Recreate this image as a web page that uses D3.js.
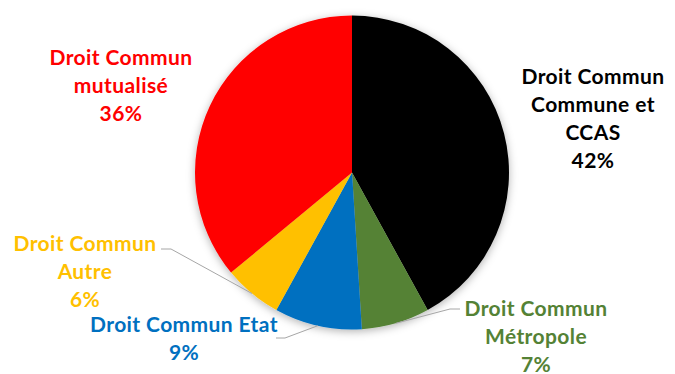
<!DOCTYPE html>
<html>
<head>
<meta charset="utf-8">
<script src="https://cdn.jsdelivr.net/npm/d3@7"></script>
<style>
  html, body { margin: 0; padding: 0; background: #fff; }
  svg { display: block; }
  text { font-family: Lato, "Open Sans", sans-serif; font-weight: 700; }
</style>
</head>
<body>
<svg id="chart" width="675" height="374"></svg>
<script>
// ---- data ----
const categories = ["Droit Commun Commune et CCAS", "Droit Commun Métropole", "Droit Commun Etat", "Droit Commun Autre", "Droit Commun mutualisé"];
const values = [42, 7, 9, 6, 36];
const colors = ["#000000", "#548235", "#0070C0", "#FFC000", "#FF0000"];
const labelLines = [
  ["Droit Commun", "Commune et", "CCAS"],
  ["Droit Commun", "Métropole"],
  ["Droit Commun Etat"],
  ["Droit Commun", "Autre"],
  ["Droit Commun", "mutualisé"]
];

// ---- layout (not data) ----
const cx = 352, cy = 172.5, R = 157;
const fontSize = 21, lineH = 28;
// label anchor: center x and first baseline; leader: elbow point & text end
const labelLayout = [
  { x: 593, y: 84, leader: null },
  { x: 536, y: 316, leader: { elbow: [450, 309], end: [460, 309] } },
  { x: 184, y: 332, leader: { elbow: [285, 338], end: [276, 338] } },
  { x: 85, y: 251, leader: { elbow: [171, 249], end: [161, 249] } },
  { x: 121, y: 65, leader: null }
];

const svg = d3.select("#chart");
const defs = svg.append("defs");
const f = defs.append("filter").attr("id", "shadow")
  .attr("x", "-20%").attr("y", "-20%").attr("width", "140%").attr("height", "140%");
f.append("feDropShadow").attr("dx", 0).attr("dy", 2).attr("stdDeviation", 4)
  .attr("flood-color", "#000").attr("flood-opacity", 0.3);

const data = categories.map((c, i) => ({ name: c, value: values[i], color: colors[i], lines: labelLines[i], layout: labelLayout[i] }));
const pie = d3.pie().value(d => d.value).sort(null).startAngle(0).endAngle(2 * Math.PI);
const arcs = pie(data);
const arc = d3.arc().innerRadius(0).outerRadius(R);

const g = svg.append("g").attr("transform", `translate(${cx},${cy})`);
g.append("g").attr("filter", "url(#shadow)")
  .selectAll("path").data(arcs).join("path")
  .attr("d", arc)
  .attr("fill", d => d.data.color);

// leader lines
const leaders = svg.append("g");
arcs.forEach(a => {
  const L = a.data.layout.leader;
  if (!L) return;
  const mid = (a.startAngle + a.endAngle) / 2;
  const px = cx + R * Math.sin(mid), py = cy - R * Math.cos(mid);
  leaders.append("polyline")
    .attr("points", `${px},${py} ${L.elbow[0]},${L.elbow[1]} ${L.end[0]},${L.end[1]}`)
    .attr("fill", "none").attr("stroke", "#a6a6a6").attr("stroke-width", 1);
});

// labels
const labels = svg.append("g");
arcs.forEach(a => {
  const d = a.data;
  const pct = Math.round(a.value / d3.sum(values) * 100) + "%";
  const lines = d.lines.concat([pct]);
  const t = labels.append("text")
    .attr("text-anchor", "middle")
    .attr("fill", d.color)
    .attr("font-size", fontSize)
    .attr("letter-spacing", 0.4);
  lines.forEach((ln, i) => {
    t.append("tspan").attr("x", d.layout.x).attr("y", d.layout.y + i * lineH).text(ln);
  });
});
</script>
</body>
</html>
